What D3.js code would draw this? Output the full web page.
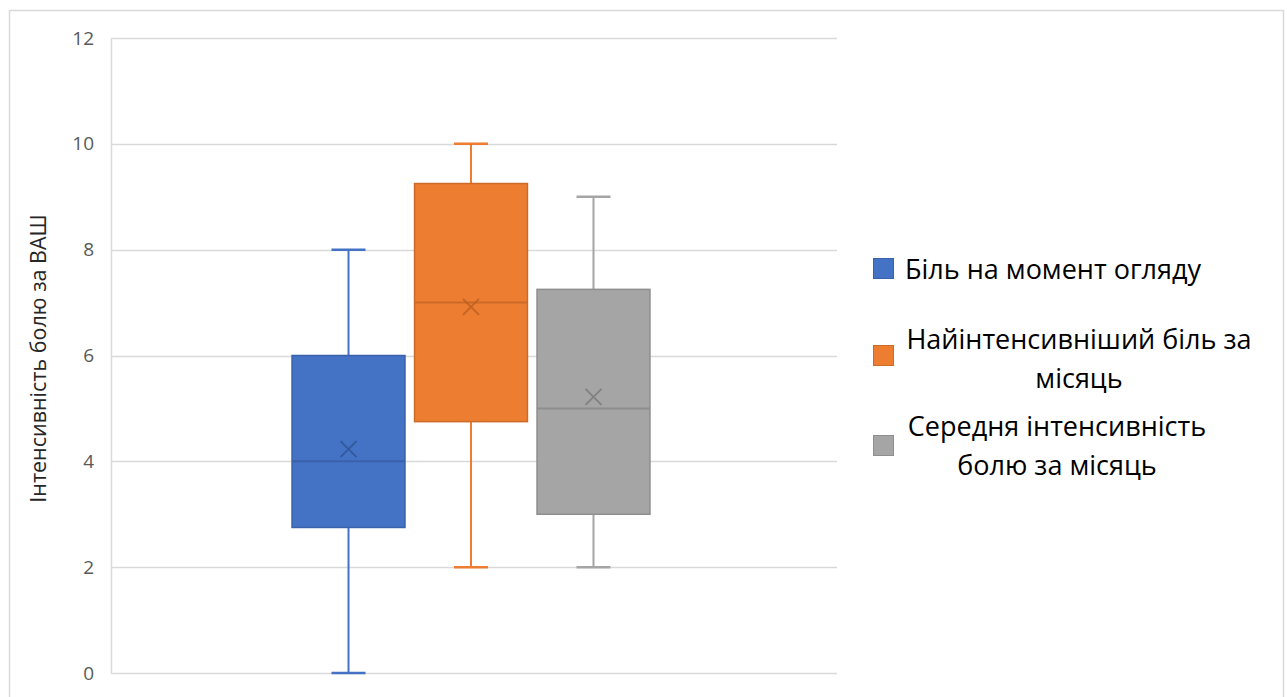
<!DOCTYPE html>
<html>
<head>
<meta charset="utf-8">
<script src="https://cdn.jsdelivr.net/npm/d3@7"></script>
<style>
  html, body { margin: 0; padding: 0; background: #fff; }
  svg { display: block; }
</style>
</head>
<body>
<svg id="chart" width="1287" height="697"></svg>
<script>
// Series names (legend labels, with line breaks)
const seriesNames = [
  "Біль на момент огляду",
  "Найінтенсивніший біль за місяць",
  "Середня інтенсивність болю за місяць"
];
const legendLines = [
  ["Біль на момент огляду"],
  ["Найінтенсивніший біль за", "місяць"],
  ["Середня інтенсивність", "болю за місяць"]
];
// Five-number summaries and means per series
const whiskerLow  = [0, 2, 2];
const quartile1   = [2.75, 4.75, 3];
const medians     = [4, 7, 5];
const quartile3   = [6, 9.25, 7.25];
const whiskerHigh = [8, 10, 9];
const means       = [4.23, 6.92, 5.22];
// Axis
const yTicks = [0, 2, 4, 6, 8, 10, 12];
const yTitle = "Інтенсивність болю за ВАШ";

const fills   = ["#4472C4", "#ED7D31", "#A5A5A5"];
const strokes = ["#3A62AA", "#CC6A28", "#8E8E8E"];
const marks   = ["#2F5597", "#B85F22", "#7A7A7A"];

const svg = d3.select("#chart");
const font = "'Open Sans', 'DejaVu Sans', sans-serif";

// Outer chart frame
svg.append("rect")
  .attr("x", 9.5).attr("y", 10.5)
  .attr("width", 1274).attr("height", 720)
  .attr("fill", "#fff").attr("stroke", "#d9d9d9").attr("stroke-width", 1.5);

const plot = { left: 111, right: 837, top: 38, bottom: 673 };

const y = d3.scaleLinear().domain([0, 12]).range([plot.bottom, plot.top]);

// Boxes sit in a centered group covering about half of the plot width
const plotW = plot.right - plot.left;
const groupW = plotW * 0.493;
const groupX0 = plot.left + (plotW - groupW) / 2 - 3;
const x = d3.scaleBand()
  .domain(seriesNames)
  .range([groupX0, groupX0 + groupW])
  .paddingInner(0.078)
  .paddingOuter(0);

// Gridlines
svg.append("g")
  .selectAll("line")
  .data(yTicks)
  .join("line")
  .attr("x1", plot.left).attr("x2", plot.right)
  .attr("y1", d => Math.round(y(d)) + 0.5).attr("y2", d => Math.round(y(d)) + 0.5)
  .attr("stroke", "#d9d9d9").attr("stroke-width", 1.5);

// Left axis line
svg.append("line")
  .attr("x1", plot.left + 0.5).attr("x2", plot.left + 0.5)
  .attr("y1", plot.top).attr("y2", plot.bottom + 1)
  .attr("stroke", "#d9d9d9").attr("stroke-width", 1.5);

// Y axis tick labels
const yAxis = d3.axisLeft(y).tickValues(yTicks).tickSize(0).tickPadding(17);
const gAxis = svg.append("g")
  .attr("transform", `translate(${plot.left},0)`)
  .call(yAxis);
gAxis.select(".domain").remove();
gAxis.selectAll("text")
  .attr("font-family", font)
  .attr("font-size", 19)
  .attr("fill", "#595959");

// Y axis title
svg.append("text")
  .attr("transform", `translate(46,${(plot.top + plot.bottom) / 2 + 3}) rotate(-90)`)
  .attr("text-anchor", "middle")
  .attr("font-family", font)
  .attr("font-size", 21.5)
  .attr("fill", "#262626")
  .text(yTitle);

// Box plots
const boxes = svg.append("g")
  .selectAll("g")
  .data(seriesNames.map((name, i) => ({ name, i })))
  .join("g");

const capW = 34;
boxes.each(function (d) {
  const g = d3.select(this);
  const i = d.i;
  const x0 = x(d.name), bw = x.bandwidth(), cx = x0 + bw / 2;
  // whiskers
  g.append("line")
    .attr("x1", cx).attr("x2", cx)
    .attr("y1", y(whiskerHigh[i])).attr("y2", y(quartile3[i]))
    .attr("stroke", fills[i]).attr("stroke-width", 2);
  g.append("line")
    .attr("x1", cx).attr("x2", cx)
    .attr("y1", y(quartile1[i])).attr("y2", y(whiskerLow[i]))
    .attr("stroke", fills[i]).attr("stroke-width", 2);
  [whiskerHigh[i], whiskerLow[i]].forEach(v => {
    g.append("line")
      .attr("x1", cx - capW / 2).attr("x2", cx + capW / 2)
      .attr("y1", y(v)).attr("y2", y(v))
      .attr("stroke", fills[i]).attr("stroke-width", 2.5);
  });
  // box
  g.append("rect")
    .attr("x", x0).attr("y", y(quartile3[i]))
    .attr("width", bw).attr("height", y(quartile1[i]) - y(quartile3[i]))
    .attr("fill", fills[i]).attr("stroke", strokes[i]).attr("stroke-width", 1.5);
  // median
  g.append("line")
    .attr("x1", x0).attr("x2", x0 + bw)
    .attr("y1", y(medians[i])).attr("y2", y(medians[i]))
    .attr("stroke", strokes[i]).attr("stroke-width", 2);
  // mean marker
  const m = 8, my = y(means[i]);
  g.append("path")
    .attr("d", `M${cx - m},${my - m}L${cx + m},${my + m}M${cx - m},${my + m}L${cx + m},${my - m}`)
    .attr("stroke", marks[i]).attr("stroke-width", 1.8).attr("fill", "none")
    .attr("opacity", 0.85);
});

// Legend
const legendTextCenters = [1057, 1079, 1057];
const legendRowTop = [258, 345, 435];
const legendFirstBaseline = [279, 349, 436];
const lineGap = 39;
const legend = svg.append("g");
seriesNames.forEach((name, i) => {
  legend.append("rect")
    .attr("x", 873.5).attr("y", legendRowTop[i] + 0.5)
    .attr("width", 20).attr("height", 20)
    .attr("fill", fills[i]).attr("stroke", strokes[i]).attr("stroke-width", 1);
  const lines = legendLines[i];
  const t = legend.append("text")
    .attr("font-family", font)
    .attr("font-size", 27)
    .attr("fill", "#000")
    .attr("text-anchor", lines.length > 1 ? "middle" : "start");
  lines.forEach((ln, k) => {
    t.append("tspan")
      .attr("x", lines.length > 1 ? legendTextCenters[i] : 905)
      .attr("y", legendFirstBaseline[i] + k * lineGap)
      .text(ln);
  });
});
</script>
</body>
</html>
